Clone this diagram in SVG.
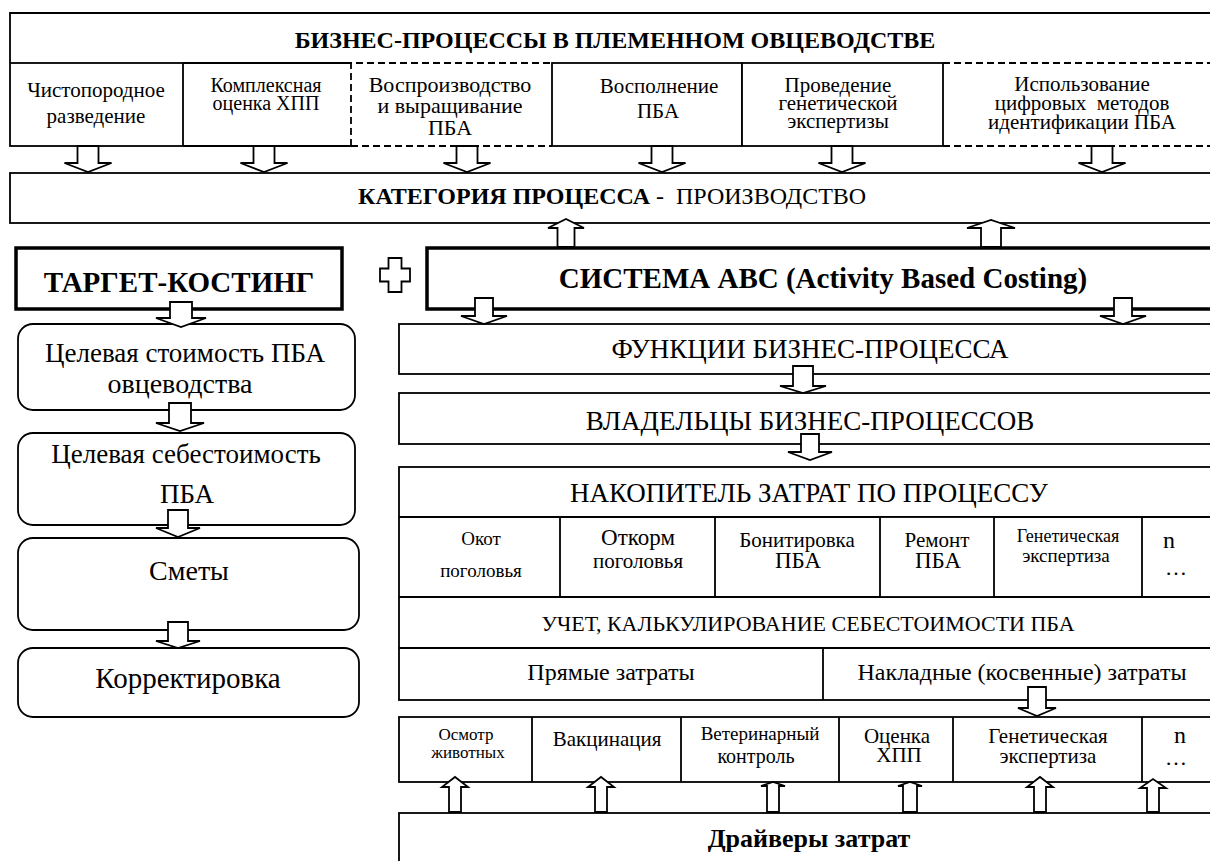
<svg xmlns="http://www.w3.org/2000/svg" width="1210" height="861" viewBox="0 0 1210 861">
<style>
.t{font-family:"Liberation Serif","Times New Roman",Tinos,"DejaVu Serif",serif;fill:#000;text-anchor:middle}
.s{text-anchor:start}
.b{font-weight:bold}
.box{fill:#fff;stroke:#000;stroke-width:1.8}
.ln{fill:none;stroke:#000;stroke-width:1.8}
.thick{fill:#fff;stroke:#000;stroke-width:3.5}
.dash{fill:none;stroke:#000;stroke-width:1.8;stroke-dasharray:7 4}
.arr{fill:#fff;stroke:#000;stroke-width:1.8;stroke-linejoin:miter}
</style>
<rect width="1210" height="861" fill="#fff"/>

<g id="title">
<path class="ln" d="M10,63 V13 H1215"/>
<text class="t b" x="615" y="48" font-size="24">БИЗНЕС-ПРОЦЕССЫ В ПЛЕМЕННОМ ОВЦЕВОДСТВЕ</text>
</g>
<g id="bp1">
<rect class="box" x="10" y="63" width="173" height="83"/>
<text class="t" x="96" y="97" font-size="21">Чистопородное</text>
<text class="t" x="96" y="123" font-size="21">разведение</text>
</g>
<g id="bp2">
<path class="ln" d="M183,63 H351 M183,146 H351"/>
<text class="t" x="266" y="92" font-size="20">Комплексная</text>
<text class="t" x="266" y="110" font-size="20">оценка ХПП</text>
</g>
<g id="bp3">
<path class="dash" d="M351,146 V63 H552 M351,146 H552"/>
<text class="t" x="450" y="92" font-size="22">Воспроизводство</text>
<text class="t" x="450" y="113" font-size="22">и выращивание</text>
<text class="t" x="450" y="135" font-size="22">ПБА</text>
</g>
<g id="bp4">
<rect class="box" x="552" y="63" width="190" height="83"/>
<text class="t" x="659" y="93" font-size="21">Восполнение</text>
<text class="t" x="658" y="118" font-size="21">ПБА</text>
</g>
<g id="bp5">
<rect class="box" x="742" y="63" width="201" height="83"/>
<text class="t" x="838" y="92" font-size="21">Проведение</text>
<text class="t" x="838" y="110" font-size="21">генетической</text>
<text class="t" x="838" y="128" font-size="21">экспертизы</text>
</g>
<g id="bp6">
<path class="dash" d="M943,63 H1215 M943,146 H1215"/>
<text class="t" x="1082" y="91" font-size="21">Использование</text>
<text class="t" x="1082" y="110" font-size="21" xml:space="preserve">цифровых  методов</text>
<text class="t" x="1082" y="129" font-size="21">идентификации ПБА</text>
</g>

<g id="category">
<rect class="box" x="10" y="173" width="1205" height="50"/>
<text class="t s" x="358" y="204" font-size="24" xml:space="preserve"><tspan font-weight="bold">КАТЕГОРИЯ ПРОЦЕССА</tspan> -  ПРОИЗВОДСТВО</text>
</g>

<g id="target">
<rect class="thick" x="16" y="248" width="326" height="61"/>
<text class="t b" x="179" y="292" font-size="29">ТАРГЕТ-КОСТИНГ</text>
</g>
<g id="plus">
<path class="box" stroke-width="1.5" d="M388.5,258 H401.5 V268.5 H410 V281.5 H401.5 V292 H388.5 V281.5 H380 V268.5 H388.5 Z"/>
</g>
<g id="abc">
<rect class="thick" x="427" y="248" width="790" height="61"/>
<text class="t b" x="823" y="288" font-size="29">СИСТЕМА АВС (Activity Based Costing)</text>
</g>

<g id="tc1">
<rect class="box" x="18" y="324" width="337" height="86" rx="15"/>
<text class="t" x="185" y="362" font-size="27">Целевая стоимость ПБА</text>
<text class="t" x="180" y="393" font-size="28">овцеводства</text>
</g>
<g id="tc2">
<rect class="box" x="18" y="433" width="337" height="92" rx="15"/>
<text class="t" x="186" y="463" font-size="27">Целевая себестоимость</text>
<text class="t" x="187" y="503" font-size="27">ПБА</text>
</g>
<g id="tc3">
<rect class="box" x="18" y="538" width="341" height="92" rx="15"/>
<text class="t" x="189" y="580" font-size="28">Сметы</text>
</g>
<g id="tc4">
<rect class="box" x="18" y="648" width="341" height="69" rx="15"/>
<text class="t" x="188" y="688" font-size="29">Корректировка</text>
</g>

<g id="functions">
<rect class="box" x="399" y="324" width="816" height="50"/>
<text class="t" x="810" y="358" font-size="27">ФУНКЦИИ БИЗНЕС-ПРОЦЕССА</text>
</g>
<g id="owners">
<rect class="box" x="399" y="393" width="816" height="51"/>
<text class="t" x="810" y="430" font-size="27">ВЛАДЕЛЬЦЫ БИЗНЕС-ПРОЦЕССОВ</text>
</g>

<g id="pool">
<rect class="box" x="399" y="467" width="816" height="233"/>
<path class="ln" d="M399,517 H1215 M399,597 H1215 M399,648 H1215 M560,517 V597 M715,517 V597 M1142,517 V597 M823,648 V700"/>
<rect class="box" x="880" y="517" width="114" height="80" stroke-width="2.6"/>
<text class="t" x="809" y="502" font-size="27">НАКОПИТЕЛЬ ЗАТРАТ ПО ПРОЦЕССУ</text>
<text class="t" x="481" y="545" font-size="19">Окот</text>
<text class="t" x="481" y="577" font-size="19">поголовья</text>
<text class="t" x="638" y="545" font-size="23">Откорм</text>
<text class="t" x="638" y="568" font-size="21">поголовья</text>
<text class="t" x="797" y="547" font-size="21">Бонитировка</text>
<text class="t" x="798" y="568" font-size="23">ПБА</text>
<text class="t" x="937" y="547" font-size="21">Ремонт</text>
<text class="t" x="938" y="568" font-size="23">ПБА</text>
<text class="t" x="1068" y="542" font-size="18">Генетическая</text>
<text class="t" x="1066" y="562" font-size="19">экспертиза</text>
<text class="t" x="1169" y="548" font-size="24">n</text>
<text class="t" x="1176" y="575" font-size="22">…</text>
<text class="t" x="808" y="631" font-size="22">УЧЕТ, КАЛЬКУЛИРОВАНИЕ СЕБЕСТОИМОСТИ ПБА</text>
<text class="t" x="611" y="680" font-size="24">Прямые затраты</text>
<text class="t" x="1022" y="680" font-size="24">Накладные (косвенные) затраты</text>
</g>

<g id="activities">
<rect class="box" x="399" y="717" width="816" height="65"/>
<path class="ln" d="M532,717 V782 M681,717 V782 M839,717 V782 M953,717 V782 M1142,717 V782"/>
<text class="t" x="466" y="740" font-size="17">Осмотр</text>
<text class="t" x="468" y="758" font-size="17">животных</text>
<text class="t" x="607" y="746" font-size="21">Вакцинация</text>
<text class="t" x="760" y="740" font-size="19">Ветеринарный</text>
<text class="t" x="756" y="763" font-size="20">контроль</text>
<text class="t" x="897" y="743" font-size="21">Оценка</text>
<text class="t" x="899" y="762" font-size="21">ХПП</text>
<text class="t" x="1048" y="743" font-size="21">Генетическая</text>
<text class="t" x="1048" y="763" font-size="21">экспертиза</text>
<text class="t" x="1180" y="743" font-size="24">n</text>
<text class="t" x="1176" y="765" font-size="22">…</text>
</g>

<g id="drivers">
<rect class="box" x="399" y="813" width="816" height="60"/>
<text class="t b" x="809" y="847" font-size="26">Драйверы затрат</text>
</g>

<g id="connectors">
<path class="arr" d="M77.5,146 H98.5 V163 H111.5 L88,172 L64.5,163 H77.5 Z"/>
<path class="arr" d="M253.5,146 H274.5 V163 H287.5 L264,172 L240.5,163 H253.5 Z"/>
<path class="arr" d="M456.5,146 H477.5 V163 H490.5 L467,172 L443.5,163 H456.5 Z"/>
<path class="arr" d="M651.5,146 H672.5 V163 H685.5 L662,172 L638.5,163 H651.5 Z"/>
<path class="arr" d="M831.5,146 H852.5 V163 H865.5 L842,172 L818.5,163 H831.5 Z"/>
<path class="arr" d="M1091.5,146 H1112.5 V163 H1125.5 L1102,172 L1078.5,163 H1091.5 Z"/>
<path class="arr" d="M557.5,247 V228 H548 L566,219 L584,228 H574.5 V247 Z"/>
<path class="arr" d="M981,247 V228 H967 L991,220 L1015,228 H1001 V247 Z"/>
<path class="arr" d="M475,298 H493 V316 H507 L484,324 L461,316 H475 Z"/>
<path class="arr" d="M1114,298 H1132 V316 H1146 L1123,324 L1100,316 H1114 Z"/>
<path class="arr" d="M793,366 H813 V386 H826 L803,393 L780,386 H793 Z"/>
<path class="arr" d="M801,434 H819 V452 H832 L810,460 L788,452 H801 Z"/>
<path class="arr" d="M1028,687 H1046 V708 H1056 L1037,716 L1018,708 H1028 Z"/>
<path class="arr" d="M170,302 H192 V318 H206 L181,327 L156,318 H170 Z"/>
<path class="arr" d="M169,403 H191 V423 H204 L180,431 L156,423 H169 Z"/>
<path class="arr" d="M168,510 H188 V528 H200 L178,537 L156,528 H168 Z"/>
<path class="arr" d="M168,622 H188 V641 H200 L178,648 L156,641 H168 Z"/>
<path class="arr" d="M449,812 V787 H442 L455,777 L468,787 H461 V812 Z"/>
<path class="arr" d="M595,812 V787 H588 L601,777 L614,787 H607 V812 Z"/>
<path class="arr" d="M767,812 V786 H761 L773,782 L785,786 H779 V812 Z"/>
<path class="arr" d="M903,812 V786 H898 L910,782 L922,786 H917 V812 Z"/>
<path class="arr" d="M1034,812 V787 H1027 L1040,777 L1053,787 H1046 V812 Z"/>
<path class="arr" d="M1147,812 V788 H1140 L1153,779 L1166,788 H1159 V812 Z"/>
</g>
</svg>
